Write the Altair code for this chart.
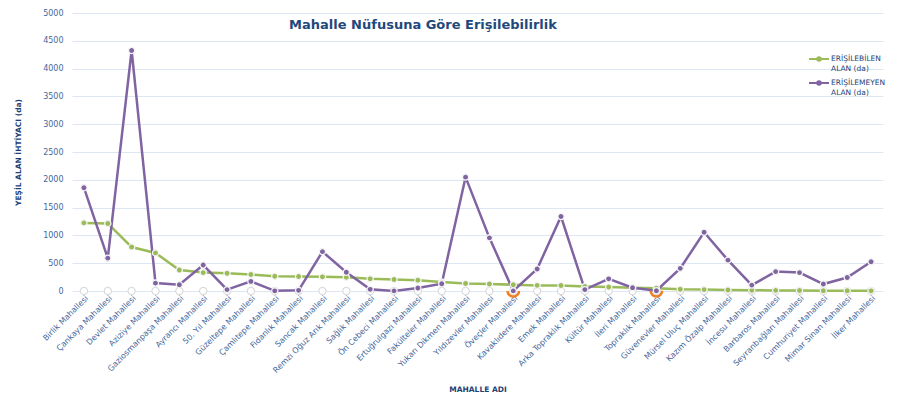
import math
import altair as alt
import pandas as pd

categories = [
    "Birlik Mahallesi", "Çankaya Mahallesi", "Devlet Mahallesi", "Aziziye Mahallesi",
    "Gaziosmanpaşa Mahallesi", "Ayrancı Mahallesi", "50. Yıl Mahallesi", "Güzeltepe Mahallesi",
    "Çamlıtepe Mahallesi", "Fidanlık Mahallesi", "Sancak Mahallesi", "Remzi Oğuz Arık Mahallesi",
    "Sağlık Mahallesi", "Ön Cebeci Mahallesi", "Ertuğrulgazi Mahallesi", "Fakülteler Mahallesi",
    "Yukarı Dikmen Mahallesi", "Yıldızevler Mahallesi", "Öveçler Mahallesi", "Kavaklıdere Mahallesi",
    "Emek Mahallesi", "Arka Topraklık Mahallesi", "Kültür Mahallesi", "İleri Mahallesi",
    "Topraklık Mahallesi", "Güvenevler Mahallesi", "Mürsel Uluç Mahallesi", "Kazım Özalp Mahallesi",
    "İncesu Mahallesi", "Barbaros Mahallesi", "Seyranbağları Mahallesi", "Cumhuriyet Mahallesi",
    "Mimar Sinan Mahallesi", "İlker Mahallesi",
]

erisilebilen = [1225, 1215, 791, 685, 378, 331, 319, 296, 265, 260, 255, 248, 219, 207, 195, 160,
                135, 125, 113, 101, 98, 80, 71, 60, 50, 32, 25, 18, 13, 11, 9, 6, 5, 3]

erisilemeyen = [1858, 591, 4326, 142, 113, 467, 25, 172, 3, 12, 708, 337, 30, 2, 53, 131,
                2048, 956, 2, 396, 1340, 25, 219, 60, 5, 407, 1056, 555, 106, 349, 331, 125, 242, 526]

sifir_seri = [0] * len(categories)
highlighted = ["Öveçler Mahallesi", "Topraklık Mahallesi"]

series_names = ["ERİŞİLEBİLEN ALAN (da)", "ERİŞİLEMEYEN ALAN (da)"]
series_colors = ["#9bbb59", "#8064a2"]
title_text = "Mahalle Nüfusuna Göre Erişilebilirlik"
x_title = "MAHALLE ADI"
y_title = "YEŞİL ALAN İHTİYACI (da)"
y_ticks = list(range(0, 5001, 500))

rows = []
for i, c in enumerate(categories):
    rows.append({"mahalle": c, "seri": series_names[0], "deger": erisilebilen[i]})
    rows.append({"mahalle": c, "seri": series_names[1], "deger": erisilemeyen[i]})
df = pd.DataFrame(rows)
zero_df = pd.DataFrame({"mahalle": categories, "deger": sifir_seri})
hl_df = pd.DataFrame({"mahalle": highlighted,
                      "deger": [erisilemeyen[categories.index(h)] for h in highlighted]})

FONT = "DejaVu Sans"
LABEL_COLOR = "#45679b"
TITLE_COLOR = "#1f3f74"

x_enc = alt.X(
    "mahalle:N", sort=categories,
    scale=alt.Scale(type="point", padding=0.5),
    axis=alt.Axis(
        title=x_title, labelAngle=315, labelFontSize=8, labelColor=LABEL_COLOR,
        labelFont=FONT, labelPadding=3, ticks=False, domain=False, grid=False,
        titleFontSize=7.5, titleFont=FONT, titleFontWeight="bold", titleColor=TITLE_COLOR,
        titlePadding=11, labelOverlap=False, labelLimit=200,
    ),
)
y_enc = alt.Y(
    "deger:Q",
    scale=alt.Scale(domain=[0, 5000], nice=False),
    axis=alt.Axis(
        values=y_ticks, format="d", title=y_title, labelFontSize=8, labelColor=LABEL_COLOR,
        labelFont=FONT, labelPadding=9, ticks=False, domain=False, grid=True,
        gridColor="#dde7f3", gridWidth=1, titleFontSize=7.5, titleFont=FONT,
        titleFontWeight="bold", titleColor=TITLE_COLOR, titlePadding=20,
    ),
)

color_enc = alt.Color(
    "seri:N",
    scale=alt.Scale(domain=series_names, range=series_colors),
    legend=alt.Legend(
        title=None, orient="none", legendX=736, legendY=35, padding=0,
        symbolType="M-1,0L1,0M0.18,0A0.18,0.18,0,1,1,-0.18,0A0.18,0.18,0,1,1,0.18,0",
        symbolSize=400, symbolStrokeWidth=2, labelFontSize=7.5, labelFont=FONT,
        labelColor=TITLE_COLOR, labelOffset=1, rowPadding=0,
        labelExpr="[slice(datum.label, 0, indexof(datum.label, ' ')), slice(datum.label, indexof(datum.label, ' ') + 1)]",
    ),
)

zero_pts = alt.Chart(zero_df).mark_point(
    filled=True, fill="white", stroke="#d4d4d4", strokeWidth=1, size=55, opacity=1
).encode(x=x_enc, y=y_enc)

lines = alt.Chart(df).mark_line(strokeWidth=2.5).encode(
    x=x_enc, y=y_enc, color=color_enc
)

hl = alt.Chart(hl_df).mark_arc(
    theta=math.pi / 2, theta2=3 * math.pi / 2, radius=7, radius2=4.5, color="#f07f22"
).encode(x=x_enc, y=y_enc)

pts = alt.Chart(df).mark_point(
    filled=True, size=38, stroke="#f4f4f4", strokeWidth=1.3, opacity=1
).encode(
    x=x_enc, y=y_enc,
    fill=alt.Fill("seri:N", scale=alt.Scale(domain=series_names, range=series_colors), legend=None),
)

title = alt.Chart(pd.DataFrame({"t": [title_text]})).mark_text(
    font=FONT, fontSize=13, fontWeight="bold", color="#1f497d", align="center", baseline="middle"
).encode(x=alt.value(351), y=alt.value(12), text="t:N")

chart = alt.layer(zero_pts, lines, hl, pts, title).properties(
    width=811, height=278,
    padding={"left": 64, "top": 5, "right": 20, "bottom": 106},
    autosize=alt.AutoSizeParams(type="none"),
    background="white",
).configure_view(stroke=None)

chart.save("out.html", embed_options={"renderer": "svg", "actions": False})
